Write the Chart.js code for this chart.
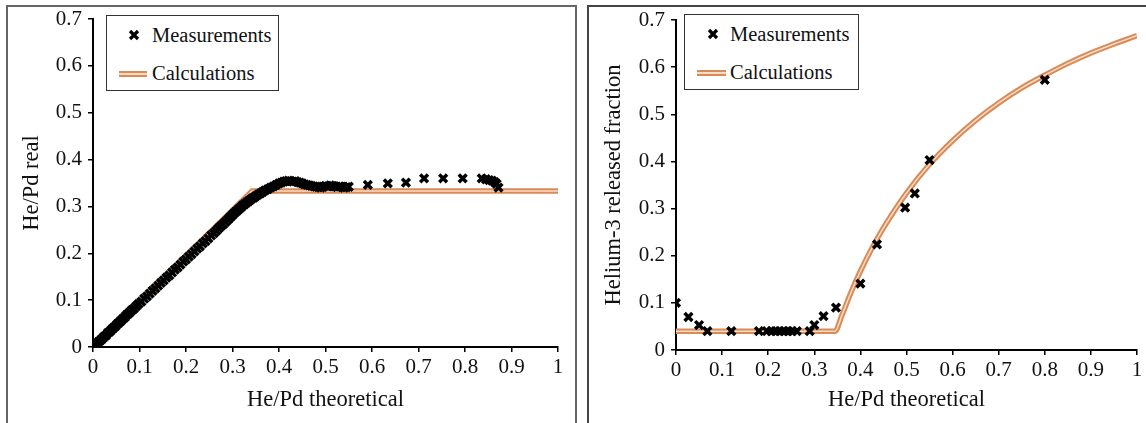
<!DOCTYPE html>
<html lang="en">
<head>
    <meta charset="UTF-8">
    <title>He/Pd charts</title>
    <style>
        body { margin: 0; background: #fff; width: 1146px; height: 423px; overflow: hidden; position: relative; font-family: "Liberation Serif", serif; }
        .panel { position: absolute; top: 5px; height: 430px; border: 2px solid #666; border-bottom: none; }
        #panelL { left: 6px; width: 567px; }
        #panelR { left: 587px; width: 600px; border-color: #444; }
        .wrap { position: absolute; top: 0; height: 423px; }
        #wrapL { left: 0; width: 575px; }
        #wrapR { left: 589px; width: 557px; }
        .legend { position: absolute; background: #fff; border: 1.5px solid #333; font-size: 20.5px; color: #111; }
        .legend .row { position: absolute; left: 0; white-space: nowrap; }
        .legend .txt { position: absolute; top: 0; line-height: 20px; }
        .cross { position: absolute; }
        .dbl { position: absolute; height: 1.5px; background: #f6dcc8; border-top: 2px solid #d98a55; border-bottom: 2px solid #d98a55; }
    </style>
</head>
<body>
    <div class="panel" id="panelL"></div>
    <div class="panel" id="panelR"></div>
    <div class="wrap" id="wrapL"><canvas id="chartL" width="575" height="423"></canvas></div>
    <div class="wrap" id="wrapR"><canvas id="chartR" width="557" height="423"></canvas></div>

    <div class="legend" style="left:106px; top:15px; width:171px; height:74px;">
        <div class="row" style="top:9px;">
            <svg class="cross" style="left:21px; top:4px;" width="12" height="12"><path d="M2 2 L10 10 M10 2 L2 10" stroke="#000" stroke-width="3.2"/></svg>
            <span class="txt" style="left:45px;">Measurements</span>
        </div>
        <div class="row" style="top:47px;">
            <div class="dbl" style="left:12px; top:8px; width:28px;"></div>
            <span class="txt" style="left:45px;">Calculations</span>
        </div>
    </div>
    <div class="legend" style="left:684px; top:14px; width:173px; height:74px;">
        <div class="row" style="top:9px;">
            <svg class="cross" style="left:22px; top:4px;" width="12" height="12"><path d="M2 2 L10 10 M10 2 L2 10" stroke="#000" stroke-width="3.2"/></svg>
            <span class="txt" style="left:45px;">Measurements</span>
        </div>
        <div class="row" style="top:47px;">
            <div class="dbl" style="left:12px; top:8px; width:29px;"></div>
            <span class="txt" style="left:45px;">Calculations</span>
        </div>
    </div>

    <script src="https://cdn.jsdelivr.net/npm/chart.js"></script>
    <script>
const xTickLabels = ['0', '0.1', '0.2', '0.3', '0.4', '0.5', '0.6', '0.7', '0.8', '0.9', '1'];
const yTickLabels = ['0', '0.1', '0.2', '0.3', '0.4', '0.5', '0.6', '0.7'];

// left: He/Pd real vs theoretical
const leftMeasX = [0.003,0.008,0.012,0.016,0.02,0.024,0.028,0.032,0.036,0.04,0.044,0.048,0.052,0.056,0.06,0.064,0.068,0.072,0.076,0.08,
    0.084,0.088,0.093,0.098,0.104,0.11,0.116,0.122,0.128,0.134,0.14,0.146,0.152,0.158,0.164,0.17,0.176,0.182,0.188,0.194,
    0.2,0.206,0.212,0.218,0.224,0.23,0.236,0.242,0.248,0.254,0.26,0.265,0.27,0.275,0.28,0.285,0.29,0.294,0.298,0.302,
    0.306,0.31,0.314,0.318,0.322,0.326,0.33,0.334,0.338,0.342,0.346,0.35,0.355,0.36,0.365,0.37,0.376,0.382,0.388,0.394,
    0.4,0.405,0.41,0.415,0.42,0.425,0.43,0.435,0.44,0.445,0.45,0.455,0.46,0.465,0.47,0.475,0.48,0.485,0.49,0.495,
    0.5,0.505,0.51,0.515,0.52,0.525,0.53,0.535,0.54,0.545,0.55,0.591,0.634,0.673,0.712,0.753,0.795,0.836,0.845,0.852,
    0.858,0.864,0.868,0.872];
const leftMeasY = [0.002,0.006,0.011,0.014,0.018,0.022,0.025,0.03,0.033,0.037,0.041,0.044,0.049,0.052,0.056,0.06,0.063,0.068,0.071,0.075,
    0.079,0.082,0.087,0.092,0.097,0.103,0.108,0.114,0.12,0.125,0.131,0.137,0.142,0.148,0.153,0.159,0.165,0.17,0.176,0.182,
    0.187,0.193,0.198,0.204,0.21,0.215,0.221,0.226,0.232,0.238,0.243,0.248,0.253,0.258,0.262,0.267,0.272,0.276,0.28,0.284,
    0.288,0.291,0.295,0.298,0.302,0.305,0.308,0.311,0.314,0.317,0.319,0.322,0.325,0.328,0.331,0.334,0.337,0.34,0.343,0.346,
    0.349,0.351,0.353,0.354,0.355,0.354,0.353,0.354,0.352,0.351,0.349,0.347,0.346,0.345,0.344,0.343,0.342,0.341,0.34,0.342,
    0.344,0.343,0.345,0.344,0.343,0.341,0.343,0.342,0.34,0.341,0.342,0.346,0.349,0.351,0.36,0.36,0.36,0.36,0.358,0.356,
    0.355,0.352,0.348,0.34];
const leftCalcX = [0, 0.342, 1];
const leftCalcY = [0, 0.333, 0.333];

// right: helium-3 released fraction
const rightMeasX = [0, 0.027, 0.05, 0.068, 0.12, 0.18, 0.197, 0.207, 0.216, 0.225, 0.234, 0.243, 0.252, 0.262, 0.29, 0.30, 0.32, 0.347, 0.40, 0.436, 0.497, 0.518, 0.55, 0.80];
const rightMeasY = [0.10, 0.07, 0.053, 0.04, 0.04, 0.04, 0.04, 0.04, 0.04, 0.04, 0.04, 0.04, 0.04, 0.04, 0.04, 0.053, 0.072, 0.09, 0.141, 0.224, 0.302, 0.332, 0.403, 0.573];
const rightCalcX = [0, 0.345, 0.36, 0.38, 0.4, 0.425, 0.45, 0.5, 0.55, 0.6, 0.65, 0.7, 0.75, 0.8, 0.85, 0.9, 0.95, 1.0];
const rightCalcY = [0.04, 0.04, 0.074, 0.123, 0.167, 0.216, 0.259, 0.333, 0.394, 0.444, 0.487, 0.524, 0.556, 0.583, 0.608, 0.630, 0.649, 0.667];

const pts = (xs, ys) => xs.map((x, i) => ({ x: x, y: ys[i] }));
const serif = '"Liberation Serif", serif';

function makeChart(id, cfg) {
    const measure = {
        data: pts(cfg.measX, cfg.measY),
        pointStyle: 'crossRot',
        pointRadius: 5.5,
        pointHoverRadius: 5.5,
        borderColor: '#000',
        backgroundColor: '#000',
        pointBorderWidth: 3.5,
        showLine: false
    };
    const calcInner = {
        data: pts(cfg.calcX, cfg.calcY),
        showLine: true,
        borderColor: '#f6dcc8',
        borderWidth: 1.5,
        pointRadius: 0,
        tension: 0,
        cubicInterpolationMode: cfg.curve ? 'monotone' : 'default'
    };
    const calcOuter = Object.assign({}, calcInner, { borderColor: '#d98a55', borderWidth: 5.5 });

    return new Chart(document.getElementById(id), {
        type: 'scatter',
        data: { datasets: [measure, calcInner, calcOuter] },
        options: {
            responsive: false,
            animation: false,
            events: [],
            layout: { padding: cfg.pad },
            plugins: { legend: { display: false }, tooltip: { enabled: false } },
            scales: {
                x: {
                    min: 0, max: 1,
                    border: { color: '#000', width: 2 },
                    grid: { drawOnChartArea: false, drawTicks: true, tickLength: 5, color: '#000', lineWidth: 1.5 },
                    ticks: {
                        stepSize: 0.1, maxRotation: 0, autoSkip: false, padding: 3,
                        color: '#111', font: { family: serif, size: 21 },
                        callback: (v, i) => xTickLabels[i]
                    },
                    title: { display: true, text: 'He/Pd theoretical', color: '#111', font: { family: serif, size: 22.5 }, padding: { top: 0, bottom: 9 } },
                    afterFit: s => { s.height = cfg.xH; s.paddingLeft = 0; s.paddingRight = 0; }
                },
                y: {
                    min: 0, max: 0.7,
                    border: { color: '#000', width: 2 },
                    grid: { drawOnChartArea: false, drawTicks: true, tickLength: 5, color: '#000', lineWidth: 1.5 },
                    ticks: {
                        stepSize: 0.1, autoSkip: false, padding: 6,
                        color: '#111', font: { family: serif, size: 21 },
                        callback: (v, i) => yTickLabels[i]
                    },
                    title: { display: true, text: cfg.yTitle, color: '#111', font: { family: serif, size: 22.5 }, padding: { top: 4, bottom: 0 } },
                    afterFit: s => { s.width = cfg.yW; s.paddingTop = 0; s.paddingBottom = 0; }
                }
            }
        }
    });
}

makeChart('chartL', {
    measX: leftMeasX, measY: leftMeasY, calcX: leftCalcX, calcY: leftCalcY,
    yTitle: 'He/Pd real', curve: false,
    pad: { left: 15, right: 17, top: 19, bottom: 0 }, yW: 78, xH: 76
});
makeChart('chartR', {
    measX: rightMeasX, measY: rightMeasY, calcX: rightCalcX, calcY: rightCalcY,
    yTitle: 'Helium-3 released fraction', curve: true,
    pad: { left: 8, right: 5, top: 20, bottom: 0 }, yW: 79, xH: 73
});
    </script>
</body>
</html>
